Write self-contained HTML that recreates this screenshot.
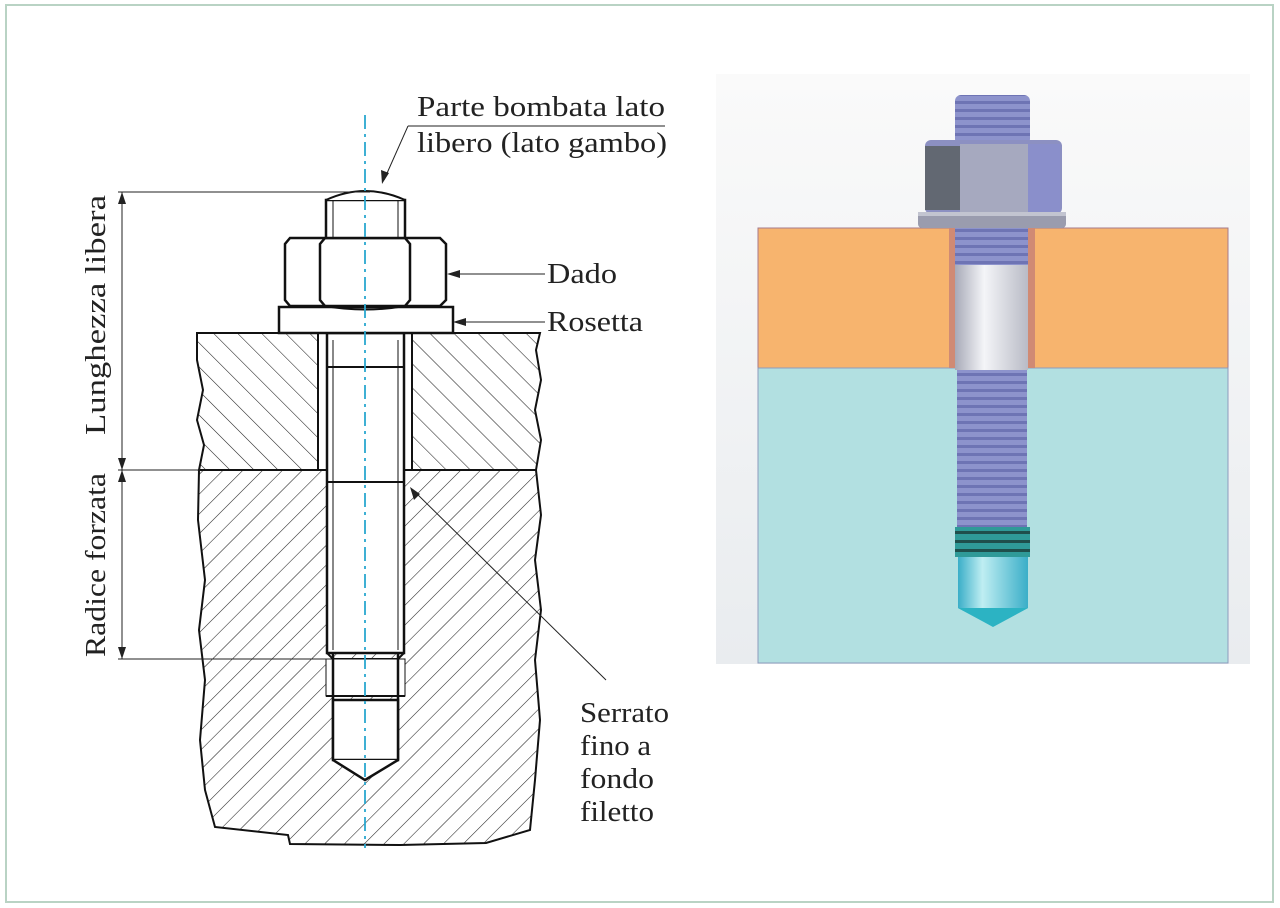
<!DOCTYPE html>
<html><head><meta charset="utf-8"><style>
html,body{margin:0;padding:0;background:#fff;}
svg{display:block;}
text{font-family:"Liberation Serif",serif;fill:#222;}
</style></head><body>
<svg width="1280" height="908" viewBox="0 0 1280 908" xmlns="http://www.w3.org/2000/svg">
<defs>
<pattern id="hA" patternUnits="userSpaceOnUse" width="17" height="17" patternTransform="rotate(-45)">
<line x1="0" y1="0" x2="0" y2="17" stroke="#222" stroke-width="1.1"/></pattern>
<pattern id="hB" patternUnits="userSpaceOnUse" width="14" height="14" patternTransform="rotate(45)">
<line x1="0" y1="0" x2="0" y2="14" stroke="#222" stroke-width="1.1"/></pattern>
<linearGradient id="bg" x1="0" y1="0" x2="0" y2="1"><stop offset="0" stop-color="#fafafa"/><stop offset="1" stop-color="#e9ecef"/></linearGradient>
<linearGradient id="shank" x1="0" y1="0" x2="1" y2="0"><stop offset="0" stop-color="#a8aab8"/><stop offset="0.4" stop-color="#f4f5f8"/><stop offset="1" stop-color="#b9bbc6"/></linearGradient>
<linearGradient id="tip" x1="0" y1="0" x2="1" y2="0"><stop offset="0" stop-color="#3aaec8"/><stop offset="0.35" stop-color="#bfeef2"/><stop offset="1" stop-color="#3aaec8"/></linearGradient>
<pattern id="thr" patternUnits="userSpaceOnUse" width="10" height="8"><rect width="10" height="8" fill="#8d93cc"/><rect y="5" width="10" height="3" fill="#6e74b4"/></pattern>
</defs>
<rect x="6" y="5" width="1267" height="897" fill="#fff" stroke="#b9d3c4" stroke-width="2"/>

<!-- top plate -->
<path d="M197,333 L540,333 L536,350 L541,380 L535,410 L541,440 L536,470 L199,470 L204,445 L197,420 L203,390 L197,360 Z" fill="url(#hA)" stroke="#111" stroke-width="2"/>
<!-- bottom block -->
<path d="M199,470 L536,470 L541,515 L535,560 L541,610 L535,660 L540,720 L535,780 L530,830 L486,843 L400,845 L290,844 L288,835 L215,827 L205,790 L200,740 L205,680 L199,630 L205,580 L198,520 Z" fill="url(#hB)" stroke="#111" stroke-width="2"/>
<!-- hole in plate -->
<rect x="318" y="333" width="94" height="137" fill="#fff" stroke="#111" stroke-width="2"/>
<!-- stud -->
<rect x="327" y="333" width="77" height="320" fill="#fff" stroke="#111" stroke-width="2.5"/>
<line x1="333" y1="340" x2="333" y2="650" stroke="#111" stroke-width="1"/>
<line x1="398" y1="340" x2="398" y2="650" stroke="#111" stroke-width="1"/>
<line x1="327" y1="367" x2="404" y2="367" stroke="#111" stroke-width="2"/>
<line x1="327" y1="482" x2="404" y2="482" stroke="#111" stroke-width="2"/>
<!-- lower drilled/threaded -->
<path d="M327,653 L333,659 L398,659 L404,653" fill="none" stroke="#111" stroke-width="2"/>
<rect x="326" y="659" width="79" height="37" fill="#fff" stroke="#111" stroke-width="1"/>
<path d="M333,653 L333,760 M398,653 L398,760" stroke="#111" stroke-width="2.5"/>
<line x1="326" y1="696" x2="405" y2="696" stroke="#111" stroke-width="2"/>
<path d="M333,700 L333,760 L398,760 L398,700 Z" fill="#fff" stroke="#111" stroke-width="2.5"/>
<path d="M333,760 L365,780 L398,760" fill="#fff" stroke="#111" stroke-width="2.5"/>
<!-- washer -->
<rect x="279" y="307" width="174" height="26" fill="#fff" stroke="#111" stroke-width="2.5"/>
<!-- nut -->
<path d="M290,238 L440,238 L446,244 L446,300 L440,306 L290,306 L285,300 L285,244 Z" fill="#fff" stroke="#111" stroke-width="2.5"/>
<path d="M325,238 Q365,232 405,238 M325,306 Q365,313 405,306" fill="none" stroke="#111" stroke-width="2"/>
<path d="M325,238 L320,244 L320,300 L325,306 M405,238 L410,244 L410,300 L405,306" fill="none" stroke="#111" stroke-width="2.5"/>
<!-- stud top -->
<rect x="326" y="200" width="79" height="38" fill="#fff" stroke="#111" stroke-width="2.5"/>
<line x1="333" y1="200" x2="333" y2="238" stroke="#111" stroke-width="1"/>
<line x1="398" y1="200" x2="398" y2="238" stroke="#111" stroke-width="1"/>
<path d="M326,200 Q365,182 405,200" fill="#fff" stroke="#111" stroke-width="2"/>
<!-- centerline -->
<line x1="365" y1="115" x2="365" y2="848" stroke="#2aa7cf" stroke-width="1.8" stroke-dasharray="14,5,3,5"/>
<!-- dimensions -->
<g stroke="#222" stroke-width="1">
<line x1="118" y1="192" x2="370" y2="192"/>
<line x1="118" y1="470" x2="200" y2="470"/>
<line x1="118" y1="659" x2="330" y2="659"/>
<line x1="122" y1="192" x2="122" y2="659"/>
</g>
<g fill="#222">
<path d="M122,192 L118,204 L126,204 Z"/><path d="M122,470 L118,458 L126,458 Z"/>
<path d="M122,470 L118,482 L126,482 Z"/><path d="M122,659 L118,647 L126,647 Z"/>
</g>
<text transform="translate(105,435) rotate(-90)" font-size="28" textLength="240" lengthAdjust="spacingAndGlyphs">Lunghezza libera</text>
<text transform="translate(105,657) rotate(-90)" font-size="28" textLength="184" lengthAdjust="spacingAndGlyphs">Radice forzata</text>
<!-- labels -->
<text x="417" y="116" font-size="28" textLength="248" lengthAdjust="spacingAndGlyphs">Parte bombata lato</text>
<text x="417" y="152" font-size="28" textLength="250" lengthAdjust="spacingAndGlyphs">libero (lato gambo)</text>
<line x1="408" y1="126" x2="665" y2="126" stroke="#222" stroke-width="1"/>
<line x1="408" y1="126" x2="384" y2="180" stroke="#222" stroke-width="1"/>
<path d="M382,184 L381,170 L389,173 Z" fill="#222"/>
<line x1="449" y1="274" x2="545" y2="274" stroke="#222" stroke-width="1"/>
<path d="M447,274 L460,270 L460,278 Z" fill="#222"/>
<text x="547" y="283" font-size="28" textLength="70" lengthAdjust="spacingAndGlyphs">Dado</text>
<line x1="455" y1="322" x2="545" y2="322" stroke="#222" stroke-width="1"/>
<path d="M453,322 L466,318 L466,326 Z" fill="#222"/>
<text x="547" y="331" font-size="28" textLength="96" lengthAdjust="spacingAndGlyphs">Rosetta</text>
<line x1="413" y1="490" x2="606" y2="680" stroke="#222" stroke-width="1"/>
<path d="M410,487 L414,500 L420,494 Z" fill="#222"/>
<text x="580" y="722" font-size="28" textLength="89" lengthAdjust="spacingAndGlyphs">Serrato</text>
<text x="580" y="755" font-size="28" textLength="71" lengthAdjust="spacingAndGlyphs">fino a</text>
<text x="580" y="788" font-size="28" textLength="74" lengthAdjust="spacingAndGlyphs">fondo</text>
<text x="580" y="821" font-size="28" textLength="74" lengthAdjust="spacingAndGlyphs">filetto</text>

<!-- right render -->
<rect x="716" y="74" width="534" height="590" fill="url(#bg)"/>
<rect x="758" y="228" width="470" height="140" fill="#f7b46e" stroke="#a77a8a" stroke-width="1"/>
<rect x="758" y="368" width="470" height="295" fill="#b2e0e1" stroke="#8d9bbd" stroke-width="1"/>
<rect x="949" y="228" width="86" height="140" fill="#d08a74"/>
<rect x="955" y="95" width="75" height="50" rx="6" fill="url(#thr)"/>
<rect x="925" y="140" width="137" height="74" rx="6" fill="#8c90c2"/>
<rect x="925" y="146" width="35" height="64" fill="#626872"/>
<rect x="960" y="144" width="68" height="68" fill="#a6a9bf"/>
<rect x="1028" y="144" width="32" height="68" fill="#8a8fcb"/>
<rect x="918" y="212" width="148" height="16" rx="4" fill="#9a9cae"/>
<rect x="918" y="212" width="148" height="4" fill="#c2c4d0"/>
<rect x="955" y="228" width="73" height="38" fill="url(#thr)"/>
<rect x="955" y="265" width="73" height="105" fill="url(#shank)"/>
<rect x="957" y="370" width="70" height="157" fill="url(#thr)"/>
<rect x="955" y="527" width="75" height="30" fill="#2f9a98"/>
<rect x="955" y="531" width="75" height="3" fill="#1f4f4c"/>
<rect x="955" y="540" width="75" height="3" fill="#1f4f4c"/>
<rect x="955" y="549" width="75" height="3" fill="#1f4f4c"/>
<path d="M958,557 L1028,557 L1028,608 L993,627 L958,608 Z" fill="url(#tip)"/>
<path d="M958,608 L993,627 L1028,608 Z" fill="#2cb3c3"/>
</svg>
</body></html>
